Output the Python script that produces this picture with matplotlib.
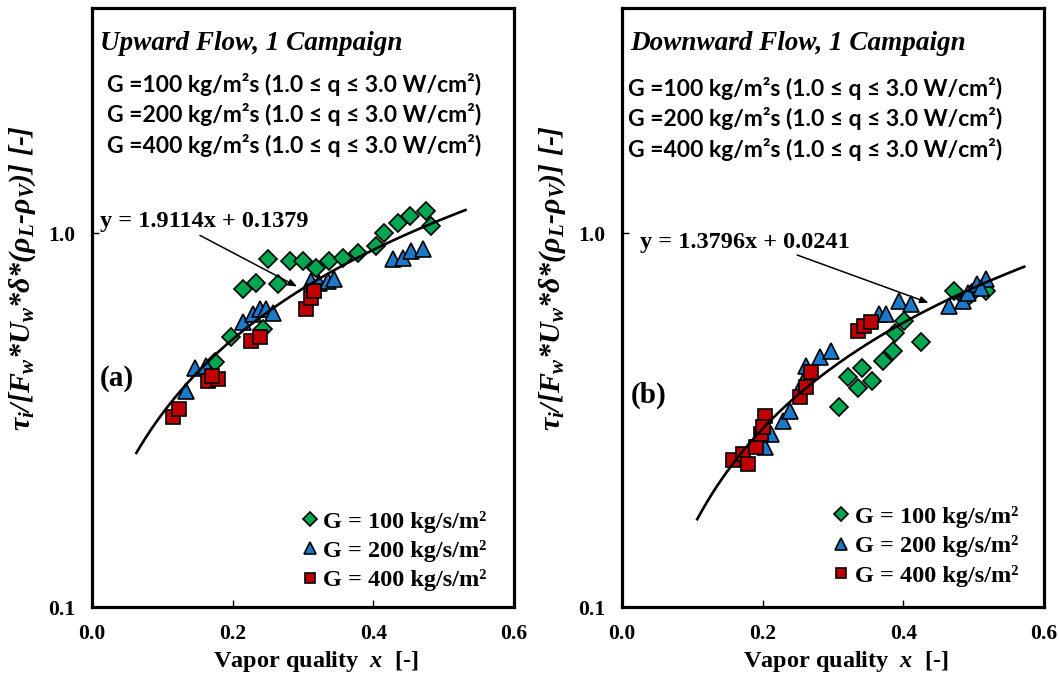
import numpy as np
import matplotlib
matplotlib.use("Agg")
import matplotlib.pyplot as plt
from matplotlib.ticker import FixedLocator, NullLocator

plt.rcParams['font.family'] = ['Liberation Serif', 'DejaVu Serif']
plt.rcParams['mathtext.fontset'] = 'custom'
plt.rcParams['mathtext.it'] = 'Liberation Serif:italic:bold'
plt.rcParams['mathtext.rm'] = 'Liberation Serif:bold'
plt.rcParams['mathtext.bf'] = 'Liberation Serif:bold'

# ---- data: (a) upward flow ----
up_x100 = [0.2146, 0.2336, 0.2643, 0.2501, 0.2809, 0.2997, 0.3187, 0.3376, 0.3565,
           0.3777, 0.4038, 0.4156, 0.4345, 0.4521, 0.4748, 0.4819, 0.1982, 0.2430, 0.1745]
up_y100 = [0.708, 0.737, 0.733, 0.851, 0.842, 0.842, 0.808, 0.842, 0.859,
           0.886, 0.923, 0.998, 1.061, 1.110, 1.145, 1.044, 0.526, 0.554, 0.453]
up_x200 = [0.1343, 0.1461, 0.1617, 0.2146, 0.2288, 0.2383, 0.2478, 0.2572, 0.3116,
           0.3234, 0.3352, 0.3447, 0.4274, 0.4416, 0.4535, 0.4699]
up_y200 = [0.379, 0.437, 0.442, 0.577, 0.607, 0.626, 0.626, 0.613, 0.745,
           0.737, 0.745, 0.753, 0.851, 0.859, 0.896, 0.905]
up_x400 = [0.1153, 0.1238, 0.1650, 0.1791, 0.1700, 0.2265, 0.2383, 0.3045, 0.3116, 0.3163]
up_y400 = [0.322, 0.339, 0.403, 0.407, 0.416, 0.515, 0.528, 0.626, 0.672, 0.700]
up_fit = [1.9114, 0.1379]
up_fit_range = [0.063, 0.531]

# ---- data: (b) downward flow ----
dn_x100 = [0.3092, 0.3210, 0.3352, 0.3414, 0.3556, 0.3707, 0.3858, 0.4251, 0.3887,
           0.4014, 0.4723, 0.4889, 0.4983, 0.5173]
dn_y100 = [0.342, 0.411, 0.385, 0.437, 0.403, 0.456, 0.483, 0.510, 0.542,
           0.583, 0.700, 0.666, 0.693, 0.700]
dn_x200 = [0.2028, 0.2123, 0.2288, 0.2383, 0.2572, 0.2620, 0.2809, 0.2974, 0.3660,
           0.3754, 0.3943, 0.4109, 0.4652, 0.4842, 0.4913, 0.5054, 0.5173, 0.5100]
dn_y200 = [0.268, 0.291, 0.315, 0.335, 0.399, 0.442, 0.465, 0.485, 0.607,
           0.607, 0.659, 0.646, 0.639, 0.659, 0.693, 0.730, 0.753, 0.712]
dn_x400 = [0.1579, 0.1721, 0.1792, 0.1910, 0.1982, 0.2028, 0.2005, 0.2525, 0.2620,
           0.2691, 0.3352, 0.3447, 0.3542]
dn_y400 = [0.247, 0.257, 0.242, 0.268, 0.291, 0.325, 0.303, 0.364, 0.387,
           0.424, 0.548, 0.565, 0.577]
dn_fit = [1.3796, 0.0241]
dn_fit_range = [0.107, 0.572]

labels = ['G = 100 kg/s/m²', 'G = 200 kg/s/m²', 'G = 400 kg/s/m²']
g_lines = ['G =100 kg/m²s (1.0 ≤ q ≤ 3.0 W/cm²)',
           'G =200 kg/m²s (1.0 ≤ q ≤ 3.0 W/cm²)',
           'G =400 kg/m²s (1.0 ≤ q ≤ 3.0 W/cm²)']

styles = [dict(marker='D', color='#00a650', ms=9.5),
          dict(marker='^', color='#1c78c8', ms=11),
          dict(marker='s', color='#c00000', ms=10)]

fig = plt.figure(figsize=(10.59, 6.78), dpi=100)
ax1 = fig.add_axes([0.0869, 0.1047, 0.3985, 0.8835])
ax2 = fig.add_axes([0.5873, 0.1047, 0.3985, 0.8835])


def draw_panel(ax, series, fit, fit_range, title, tag, tag_pos, gl_pos, eq_pos,
               arrow_tail, arrow_head, leg_anchor):
    for (xs, ys), st, lab in zip(series, styles, labels):
        ax.plot(xs, ys, ls='none', marker=st['marker'], ms=st['ms'],
                markerfacecolor=st['color'], markeredgecolor='black',
                markeredgewidth=1.2, label=lab, zorder=3)
    xf = np.linspace(fit_range[0], fit_range[1], 200)
    ax.plot(xf, fit[0] * xf + fit[1], color='black', lw=1.9, zorder=4)

    ax.set_yscale('log')
    ax.set_xlim(0, 0.6)
    ax.set_ylim(0.1, 4.0)
    ax.yaxis.set_major_locator(FixedLocator([0.1, 1.0]))
    ax.yaxis.set_minor_locator(NullLocator())
    ax.set_yticklabels(['0.1', '1.0'])
    ax.set_xticks([0.0, 0.2, 0.4, 0.6])
    ax.set_xticklabels(['0.0', '0.2', '0.4', '0.6'])
    ax.tick_params(direction='in', length=5, width=1, labelsize=15.5, pad=12)
    for lab in ax.get_xticklabels() + ax.get_yticklabels():
        lab.set_fontweight('bold')
    for sp in ax.spines.values():
        sp.set_linewidth(2.3)

    ax.set_xlabel(r'Vapor quality  $x$  [-]', fontsize=17.5, fontweight='bold')
    ax.xaxis.set_label_coords(0.53, -0.07)
    ax.set_ylabel(r'$\tau_i$/[$F_w$*$U_w$*$\delta$*($\rho_L$-$\rho_V$)] [-]',
                  fontsize=21.5, fontweight='bold', fontstyle='italic')
    ax.yaxis.set_label_coords(-0.128, 0.549)

    ax.text(0.019, 0.94, title, transform=ax.transAxes, fontsize=19.5,
            fontweight='bold', fontstyle='italic', va='center', ha='left')
    for i, s in enumerate(g_lines):
        ax.text(gl_pos[0], gl_pos[1] - i * 0.051, s, transform=ax.transAxes,
                fontsize=16.5, fontweight='bold', family=['Lato', 'DejaVu Sans'],
                va='center', ha='left')
    ax.text(tag_pos[0], tag_pos[1], tag, transform=ax.transAxes, fontsize=21,
            fontweight='bold', va='center', ha='left')

    ax.text(eq_pos[0], eq_pos[1], f'y = {fit[0]:.4f}x + {fit[1]:.4f}', fontsize=17.5,
            fontweight='bold', va='center', ha='left')
    ax.annotate('', xy=arrow_head, xytext=arrow_tail,
                arrowprops=dict(arrowstyle='-|>,head_length=0.5,head_width=0.2',
                                color='black', lw=1.1))

    leg = ax.legend(loc='lower right', bbox_to_anchor=leg_anchor, frameon=False,
                    handletextpad=0.05, labelspacing=0.3, borderaxespad=0,
                    markerscale=0.75, handlelength=1.0,
                    prop=dict(family='Liberation Serif', weight='bold', size=17.5))
    return leg


draw_panel(ax1, [(up_x100, up_y100), (up_x200, up_y200), (up_x400, up_y400)],
           up_fit, up_fit_range, 'Upward Flow, 1 Campaign', '(a)', (0.019, 0.382),
           (0.036, 0.873), (0.011, 1.077), (0.150, 0.994), (0.295, 0.714),
           (0.958, 0.01))
draw_panel(ax2, [(dn_x100, dn_y100), (dn_x200, dn_y200), (dn_x400, dn_y400)],
           dn_fit, dn_fit_range, 'Downward Flow, 1 Campaign', '(b)', (0.022, 0.354),
           (0.015, 0.866), (0.0255, 0.946), (0.2454, 0.879), (0.4397, 0.647),
           (0.962, 0.018))

fig.savefig('out.png', dpi=100)
